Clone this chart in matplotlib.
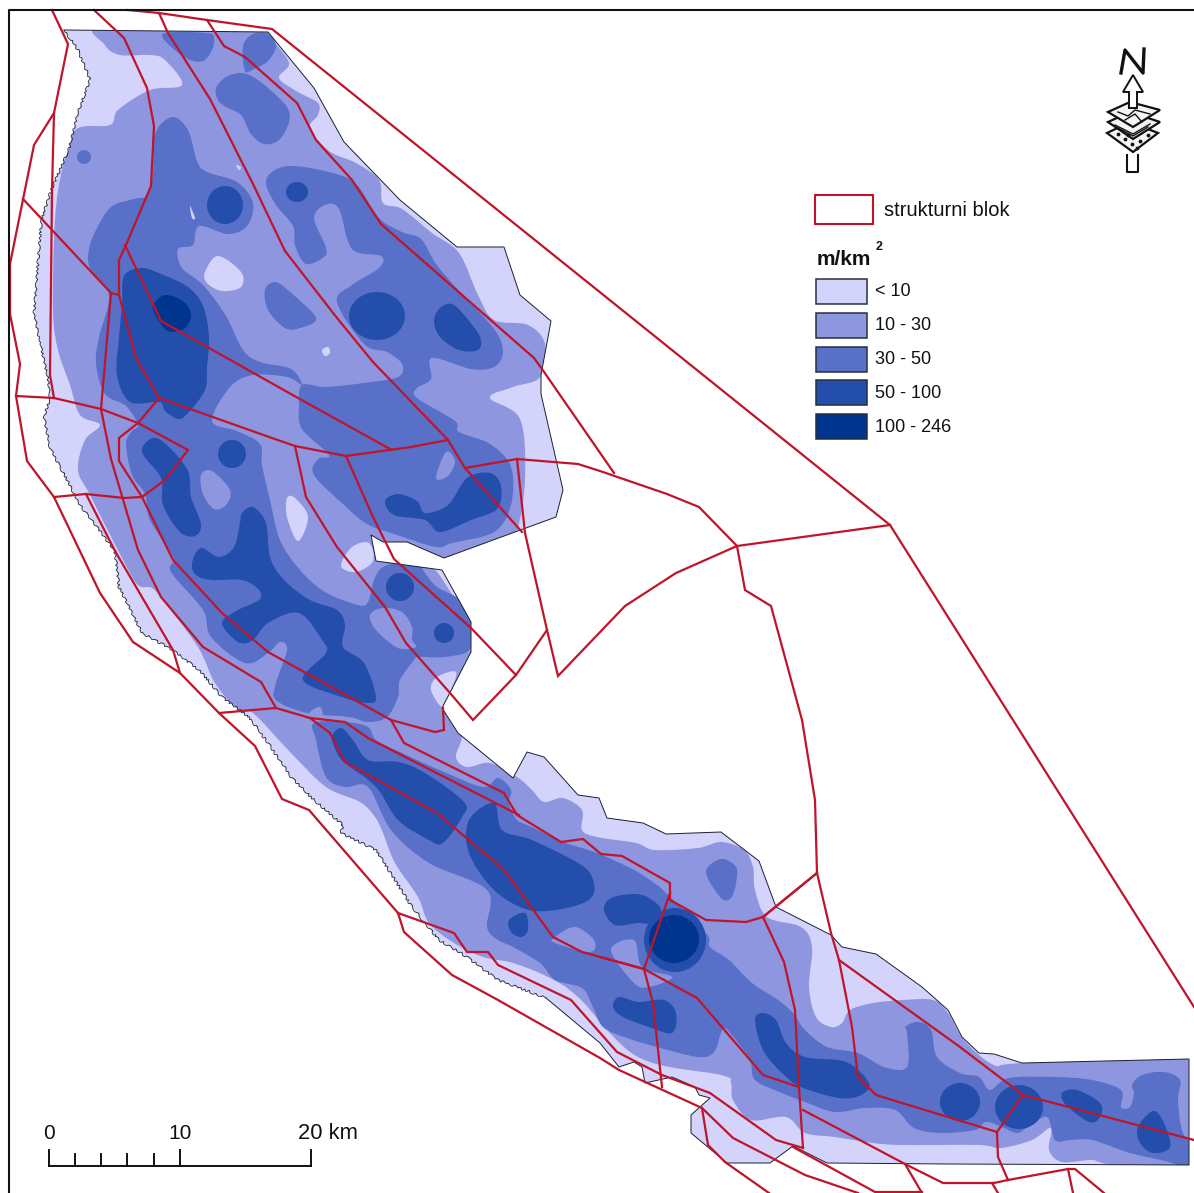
import matplotlib
matplotlib.use('Agg')
import matplotlib.pyplot as plt
from matplotlib.path import Path
from matplotlib.patches import PathPatch, Polygon, Rectangle, Ellipse

plt.rcParams['font.family'] = ['Liberation Sans', 'DejaVu Sans']

# everything is in picture pixels, y pointing down
colors = ['#d3d3fb', '#8e96e0', '#5870c8', '#234eac', '#00358f']
classes = ['< 10', '10 - 30', '30 - 50', '50 - 100', '100 - 246']
red = '#c0142a'

# survey area
area_east = [(64,30),(268,32),(314,88),(344,142),(400,200),(457,247),(504,247),(520,295),(551,321),(541,375),(541,394),(563,490),(556,517),
    (444,558),(407,542),(383,542),(371,535),(376,561),(442,570),(471,622),(471,652),(442,708),(458,733),(513,778),(527,752),(544,757),
    (578,795),(599,798),(607,818),(643,823),(666,834),(721,832),(759,861),(776,907),(831,935),(842,947),(876,954),(922,987),(948,1010),
    (962,1037),(979,1053),(994,1054),(1022,1063),(1189,1059),(1189,1165),(947,1164),(827,1163),(793,1146),(770,1163),(727,1163)]
coast_smooth = [(727,1163),(691,1133),(691,1115),(710,1098),(699,1095),(695,1087),(672,1077),(645,1083),(642,1067),(634,1062),(619,1067),(600,1043),(546,998)]
coast_rough = [(546,998),(498,980),(467,957),(439,940),(421,918),(412,907),(376,850),(341,833),(343,825),(314,800),(291,777),(268,743),(249,717),
    (222,697),(199,670),(173,650),(142,633),(119,587),(115,551),(80,505),(50,448),(44,417),(50,398),(48,379),(34,314),(40,237),(42,218),
    (52,188),(69,149),(77,115),(90,80),(78,50),(64,30)]

# 10 - 30
body_10 = [(105,25),(272,25),(272,38),(289,63),(279,78),(298,92),(318,103),(318,115),(310,128),(329,151),(356,163),(379,180),(383,203),(402,209),
    (432,233),(459,253),(478,295),(494,320),(528,325),(545,344),(540,377),(513,387),(490,398),(520,419),(525,478),(517,532),(505,545),(444,565),
    (400,550),(380,550),(425,565),(437,572),(454,597),(472,620),(475,652),(446,708),(462,733),(456,757),(467,767),(490,763),(517,777),(532,790),
    (544,802),(563,798),(582,810),(582,830),(597,837),(636,843),(655,850),(698,848),(721,842),(744,850),(753,867),(755,890),(767,917),(801,927),
    (812,947),(809,987),(816,1017),(831,1027),(842,1023),(850,1010),(873,1003),(903,1000),(933,1000),(948,1013),(964,1040),(994,1065),(1024,1063),
    (1230,1055),(1230,1190),(1111,1165),(1092,1160),(1062,1162),(1049,1150),(1051,1128),(1032,1140),(1001,1148),(979,1145),(903,1145),(873,1143),
    (835,1137),(805,1133),(786,1117),(751,1120),(733,1100),(731,1083),(721,1075),(638,1057),(578,997),(548,977),(513,963),(483,957),(454,943),
    (429,923),(418,897),(395,863),(383,833),(375,817),(360,802),(326,787),(291,753),(253,713),(238,710),(215,683),(198,647),(165,603),(152,588),
    (138,585),(123,560),(90,495),(78,470),(85,440),(100,425),(80,415),(70,385),(58,350),(53,310),(55,220),(62,170),(75,130),(110,125),(118,110),
    (150,90),(182,85),(165,60),(150,55),(120,55),(105,45)]

# 30 - 50
north_east_30 = [(266,184),(272,172),(291,166),(329,172),(356,184),(379,218),(402,232),(421,239),(436,264),(459,291),(494,329),(503,352),(494,367),
    (471,369),(432,358),(431,379),(417,388),(417,398),(455,421),(459,432),(490,444),(511,467),(511,505),(494,532),(452,543),(436,547),(394,534),
    (367,524),(344,505),(314,475),(318,459),(329,455),(302,429),(299,406),(302,385),(325,387),(364,383),(398,377),(402,364),(387,352),(364,344),
    (337,302),(352,285),(379,268),(381,256),(352,249),(339,209),(325,205),(314,218),(325,245),(325,256),(306,264),(295,245),(293,226),(276,205)]
west_30 = [(172,117),(188,130),(197,161),(207,172),(237,182),(253,203),(247,226),(228,234),(199,226),(193,245),(178,249),(182,268),(203,285),
    (226,316),(243,350),(260,362),(291,369),(302,385),(287,377),(253,375),(230,387),(212,421),(237,431),(260,444),(262,465),(270,500),(280,540),
    (300,570),(325,592),(358,605),(368,602),(374,580),(383,567),(402,562),(418,563),(425,573),(437,587),(460,600),(471,623),(469,650),(444,657),
    (418,657),(414,660),(400,680),(398,697),(387,717),(368,722),(349,717),(307,713),(276,700),(276,683),(287,650),(280,642),(268,653),(245,663),
    (211,637),(203,610),(171,572),(173,557),(150,520),(145,494),(132,475),(126,444),(132,431),(138,425),(126,406),(105,394),(96,364),(99,337),
    (109,295),(90,268),(89,249),(96,230),(111,207),(134,199),(147,195),(153,172),(155,134)]
band_30 = [(314,723),(345,722),(368,727),(376,740),(402,753),(444,772),(483,787),(498,778),(511,790),(509,803),(517,820),(532,827),(563,842),
    (597,853),(634,870),(657,885),(666,893),(706,933),(710,947),(729,960),(752,983),(778,1000),(793,1013),(805,1030),(827,1047),(858,1053),
    (884,1067),(907,1067),(907,1033),(905,1027),(918,1022),(931,1030),(937,1057),(960,1073),(979,1077),(990,1090),(1009,1078),(1055,1077),
    (1092,1080),(1121,1090),(1121,1107),(1130,1107),(1134,1093),(1132,1085),(1142,1075),(1164,1072),(1180,1080),(1178,1100),(1183,1133),
    (1200,1153),(1200,1175),(1172,1163),(1130,1153),(1092,1140),(1070,1140),(1055,1140),(1047,1117),(1028,1127),(1017,1133),(1002,1127),
    (986,1122),(975,1130),(941,1133),(914,1128),(895,1110),(865,1108),(835,1112),(805,1102),(782,1093),(755,1080),(750,1060),(736,1040),
    (725,1028),(721,1033),(714,1052),(698,1057),(657,1047),(627,1038),(603,1027),(592,1005),(582,988),(555,980),(540,963),(513,947),(498,940),
    (487,927),(487,890),(429,863),(391,830),(368,787),(345,787),(326,777),(316,740)]
top_30 = [(165,33),(168,44),(188,59),(203,61),(212,50),(214,38),(207,33)]
corner_30 = [(243,46),(245,71),(254,69),(268,61),(276,46),(268,34),(253,34)]
ridge_30 = [(216,88),(226,77),(241,73),(253,77),(268,88),(287,107),(289,122),(279,140),(264,144),(251,134),(241,115),(226,107),(218,100)]
spot_30 = [(265,290),(275,282),(290,292),(316,318),(300,328),(285,328),(268,310)]
lobe_30 = [(706,872),(721,859),(736,867),(736,883),(731,898),(721,898)]

# holes of the 10 - 30 class inside 30 - 50
patch_a = [(201,475),(212,471),(230,490),(226,505),(214,509),(203,494)]
patch_b = [(436,478),(446,452),(455,461),(448,476)]
patch_c = [(370,615),(383,608),(402,612),(412,627),(412,640),(416,647),(398,648),(376,630)]
patch_d = [(611,950),(634,940),(642,967),(672,977),(649,987),(634,983)]
patch_e = [(555,937),(575,927),(594,940),(590,952),(555,943)]
patch_f = [(310,712),(320,707),(322,717),(310,720)]

# holes of the < 10 class
hole_a = [(205,272),(218,256),(241,272),(241,287),(222,291),(207,283)]
hole_b = [(322,350),(328,347),(330,353),(325,356)]
hole_c = [(287,498),(295,498),(308,517),(298,541),(287,517)]
hole_d = [(341,566),(352,547),(369,543),(373,561),(356,572)]
hole_e = [(431,690),(437,677),(456,672),(450,693),(443,708)]
hole_f = [(236,165),(241,167),(239,170)]
hole_g = [(190,206),(195,218),(192,218)]

# 50 - 100
east_a_50 = [(434,321),(440,308),(452,304),(465,316),(480,337),(478,350),(459,350),(440,337)]
west_50 = [(124,276),(142,268),(161,274),(188,287),(203,306),(209,337),(207,367),(205,390),(188,413),(178,419),(165,411),(159,402),(130,402),
    (117,375),(119,337),(122,306)]
wedge_50 = [(142,452),(153,438),(168,446),(188,471),(191,497),(201,524),(195,536),(180,532),(163,505),(161,478)]
bay_50 = [(385,501),(398,494),(417,501),(425,513),(448,505),(467,478),(490,473),(501,486),(497,509),(471,520),(440,532),(425,520),(394,515)]
centre_50 = [(242,513),(253,507),(266,523),(270,557),(284,580),(310,600),(337,610),(345,625),(343,647),(364,663),(376,697),(368,703),(345,698),
    (303,680),(326,653),(322,640),(299,613),(268,623),(253,640),(238,642),(222,623),(238,610),(259,600),(259,590),(242,580),(211,580),(196,575),
    (192,563),(201,548),(219,557),(234,547),(240,523)]
band_a_50 = [(332,737),(341,728),(353,740),(368,760),(398,762),(425,773),(464,802),(462,817),(443,843),(429,840),(398,820),(376,787),(345,763),(337,753)]
band_b_50 = [(469,820),(494,803),(502,830),(532,840),(578,863),(592,877),(592,897),(567,908),(529,910),(494,890),(469,853)]
band_c_50 = [(509,920),(525,913),(528,930),(521,937),(511,932)]
band_d_50 = [(604,910),(611,898),(634,894),(649,898),(661,910),(649,923),(638,923),(615,925)]
south_a_50 = [(613,1007),(619,997),(638,1002),(664,1000),(676,1013),(672,1033),(649,1027),(623,1017)]
south_b_50 = [(755,1020),(763,1013),(776,1020),(786,1043),(805,1057),(846,1062),(869,1083),(861,1095),(839,1098),(801,1087),(782,1073),(763,1050)]
south_e_50 = [(1062,1093),(1077,1090),(1100,1103),(1100,1117),(1089,1122),(1066,1105)]
south_f_50 = [(1138,1127),(1153,1111),(1164,1123),(1170,1147),(1153,1153),(1140,1143)]
# round ones: centre x, centre y, half width, half height
spots_30 = [(84,157,7,7)]
spots_50 = [(225,205,18,19),(297,192,11,10),(377,316,28,24),(232,454,14,14),(400,587,14,14),(444,633,10,10),(675,940,31,32),
            (960,1102,20,19),(1019,1107,24,22)]

# 100 - 246
peak_100 = [(153,306),(165,295),(184,302),(191,316),(184,329),(168,331),(157,318)]
spots_100 = [(674,939,25,24)]

# structural block boundaries
blocks = [
    [(128,10),(159,13),(207,20),(272,29),(890,525),(1194,1007)],
    [(890,525),(737,546),(676,573),(625,606),(558,676),(547,630),(525,533),(517,459)],
    [(465,468),(517,459),(578,464),(600,471),(667,494),(699,507),(737,546),(745,590),(771,606),(802,720),(815,800),(817,873),(763,917)],
    [(346,456),(373,517),(394,559),(471,628),(516,675)],
    [(295,446),(306,497),(337,547),(385,607),(406,643),(450,693),(473,720),(516,675),(547,630)],
    [(94,10),(124,38),(147,88),(154,126),(151,186),(126,245),(119,260),(119,295),(111,293),(23,199)],
    [(52,10),(68,44),(54,113),(34,145),(10,264),(10,314),(20,364),(16,396),(27,461),(54,497),(100,593),(133,642),(180,673),(219,713),(255,746),
     (282,799),(309,810),(398,913),(404,932),(452,975),(498,1000),(600,1058),(619,1070),(702,1108),(733,1138),(805,1175),(858,1193)],
    [(54,113),(52,190),(50,375),(54,398)],
    [(16,396),(54,398),(101,409),(138,423),(188,450),(165,480),(142,497),(124,498),(86,494),(54,497)],
    [(111,293),(101,409),(111,459),(138,550),(161,597),(203,647),(261,682),(276,708),(219,713)],
    [(159,398),(138,423),(119,438),(119,461),(142,497),(173,560),(222,613),(268,652),(391,720),(435,732),(444,730),(443,708)],
    [(391,720),(404,743),(504,793),(517,815),(561,842),(583,839),(601,854),(622,856),(670,883),(670,900),(706,920),(746,922),(763,917),(817,873)],
    [(763,917),(784,962),(795,1010),(799,1087),(803,1148)],
    [(817,873),(831,933),(839,960),(852,1027),(858,1077),(876,1095),(997,1132),(1023,1095),(1194,1140)],
    [(839,960),(960,1047),(1023,1095)],
    [(997,1132),(998,1157),(1008,1180),(994,1183),(943,1183),(905,1164),(803,1110)],
    [(1008,1180),(1068,1169),(1075,1169),(1104,1193)],
    [(1068,1169),(1073,1193)],
    [(992,1183),(998,1193)],
    [(905,1164),(922,1193)],
    [(600,957),(644,969),(697,998),(763,1075),(799,1087)],
    [(670,893),(644,969),(653,1003),(662,1087)],
    [(398,913),(454,933),(467,952),(488,952),(498,965),(571,1000),(617,1052),(662,1075),(710,1093),(776,1140),(803,1148)],
    [(702,1108),(708,1145),(725,1162),(769,1193)],
    [(793,1147),(875,1192),(922,1192)],
    [(276,708),(310,718),(345,722),(368,738),(519,815)],
    [(310,718),(330,733),(345,762),(437,813),(504,870),(553,937),(582,952),(644,969)],
    [(86,494),(115,551),(173,650),(180,673)],
    [(159,13),(168,33),(210,99),(253,184),(285,251),(337,318),(373,362),(448,440),(465,468),(522,532)],
    [(207,20),(224,46),(245,57),(297,103),(316,140),(352,180),(381,224),(534,358),(542,369),(614,473)],
    [(159,398),(272,438),(295,446),(346,456),(411,447),(448,440)],
    [(125,245),(161,321),(298,398),(390,449)],
    [(119,295),(136,358),(159,398)],
]

north_n = [(1121,73),(1125,50),(1143,73),(1144,49)]
north_arrow = [(1133,75),(1143,92),(1137,92),(1137,108),(1129,108),(1129,92),(1123,92)]
north_sheets = [[(1107,133),(1130,122),(1158,133),(1133,152)],
                [(1108,122),(1130,112),(1160,122),(1133,139)],
                [(1108,112),(1130,102),(1160,110),(1133,127)]]
north_stem = [(1127,155),(1127,172),(1138,172),(1138,155)]
north_cracks = [[(1118,112),(1128,116),(1135,110),(1150,114)], [(1125,120),(1135,114),(1142,122)], [(1115,125),(1133,134),(1150,124)],
                [(1118,128),(1133,136),(1148,127)]]
north_dots_x = [1118,1125,1132,1140,1148,1128,1137]
north_dots_y = [134,139,144,141,135,135,148]
scale_major = [49,180,311]
scale_minor = [75,101,127,154]


def smooth_path(pts):
    # closed bezier through the points, so the blobs keep their size
    n = len(pts)
    verts = [pts[0]]
    codes = [Path.MOVETO]
    for i in range(n):
        p0, p1, p2, p3 = pts[i-1], pts[i], pts[(i+1) % n], pts[(i+2) % n]
        c1 = (p1[0]+(p2[0]-p0[0])/6, p1[1]+(p2[1]-p0[1])/6)
        c2 = (p2[0]-(p3[0]-p1[0])/6, p2[1]-(p3[1]-p1[1])/6)
        verts += [c1, c2, p2]
        codes += [Path.CURVE4, Path.CURVE4, Path.CURVE4]
    return Path(verts, codes)


fig = plt.figure(figsize=(11.94, 11.93), dpi=100)
ax = fig.add_axes([0, 0, 1, 1])
ax.set_xlim(0, 1194)
ax.set_ylim(1193, 0)
ax.axis('off')

area = Polygon(area_east + coast_smooth[:-1] + coast_rough[:-1], closed=True, facecolor=colors[0], edgecolor='none', zorder=1)
ax.add_patch(area)

layers = [
    (1, [body_10]),
    (2, [north_east_30, west_30, band_30, top_30, corner_30, ridge_30, spot_30, lobe_30]),
    (1, [patch_a, patch_b, patch_c, patch_d, patch_e, patch_f]),
    (0, [hole_a, hole_b, hole_c, hole_d, hole_e, hole_f, hole_g]),
    (3, [east_a_50, west_50, wedge_50, bay_50, centre_50, band_a_50, band_b_50, band_c_50, band_d_50,
         south_a_50, south_b_50, south_e_50, south_f_50]),
    (4, [peak_100]),
]
z = 2
for level, polys in layers:
    for pts in polys:
        p = PathPatch(smooth_path(pts), facecolor=colors[level], edgecolor='none', zorder=z)
        ax.add_patch(p)
        p.set_clip_path(area)
    z += 1

for x, y, rx, ry in spots_30:
    ax.add_patch(Ellipse((x, y), 2*rx, 2*ry, facecolor=colors[2], edgecolor='none', zorder=3))
for x, y, rx, ry in spots_50:
    ax.add_patch(Ellipse((x, y), 2*rx, 2*ry, facecolor=colors[3], edgecolor='none', zorder=6))
for x, y, rx, ry in spots_100:
    ax.add_patch(Ellipse((x, y), 2*rx, 2*ry, facecolor=colors[4], edgecolor='none', zorder=8))

ax.plot(*zip(*area_east), color='#1a2030', lw=0.7, zorder=9)
ax.plot(*zip(*coast_smooth), color='#1a2030', lw=0.7, zorder=9)
coast_line, = ax.plot(*zip(*coast_rough), color='#1a2030', lw=0.6, zorder=9)
coast_line.set_sketch_params(scale=1.1, length=9, randomness=4)

for line in blocks:
    ax.plot(*zip(*line), color=red, lw=1.6, solid_joinstyle='miter', zorder=10)

# frame, only top and left show in the picture
ax.plot([8.5, 8.5, 1194], [1193, 9.5, 9.5], color='#111111', lw=1.5, zorder=11, clip_on=False)

# legend
ax.add_patch(Rectangle((815, 195), 58, 29, facecolor='white', edgecolor=red, lw=1.5, zorder=12))
ax.text(884, 211, 'strukturni blok', fontsize=14.5, va='center', ha='left', color='#111111', zorder=12)
ax.text(817, 265, 'm/km', fontsize=15, fontweight='bold', va='baseline', ha='left', color='#111111', zorder=12)
ax.text(879, 247, '2', fontsize=9, fontweight='bold', va='center', ha='center', color='#111111', zorder=12)
swatch_y = [279, 313, 347, 380, 414]
for y, c, label in zip(swatch_y, colors, classes):
    ax.add_patch(Rectangle((816, y), 51, 25, facecolor=c, edgecolor='#25303f', lw=1.1, zorder=12))
    ax.text(875, y+13, label, fontsize=13, va='center', ha='left', color='#111111', zorder=12)

# north sign
ax.plot(*zip(*north_n), color='#111111', lw=2.4, zorder=12)
for sheet in north_sheets:
    ax.add_patch(Polygon(sheet, closed=True, facecolor='#f4f4f4', edgecolor='#111111', lw=1.6, zorder=12))
for crack in north_cracks:
    ax.plot(*zip(*crack), color='#111111', lw=1.0, zorder=13)
ax.scatter(north_dots_x, north_dots_y, s=3, color='#111111', zorder=13)
ax.add_patch(Polygon(north_arrow, closed=True, facecolor='white', edgecolor='#111111', lw=1.4, zorder=14))
ax.plot(*zip(*north_stem), color='#111111', lw=1.5, zorder=12)

# scale bar
ax.plot([49, 311], [1165.5, 1165.5], color='#111111', lw=1.4, zorder=12)
for x in scale_major:
    ax.plot([x, x], [1150, 1166], color='#111111', lw=1.4, zorder=12)
for x in scale_minor:
    ax.plot([x, x], [1154, 1166], color='#111111', lw=1.4, zorder=12)
ax.text(49, 1139, '0', fontsize=15, va='baseline', ha='center', color='#111111', zorder=12)
ax.text(180, 1139, '10', fontsize=15, va='baseline', ha='center', color='#111111', zorder=12)
ax.text(298, 1139, '20 km', fontsize=15.8, va='baseline', ha='left', color='#111111', zorder=12)

fig.savefig('out.png', dpi=100)
